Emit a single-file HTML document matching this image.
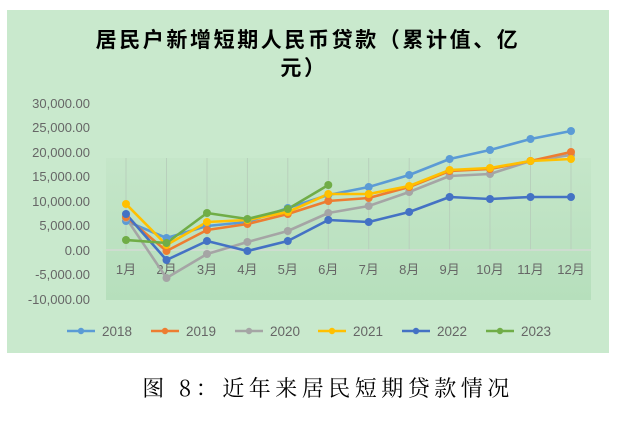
<!DOCTYPE html>
<html><head><meta charset="utf-8"><style>
html,body{margin:0;padding:0;background:#fff;width:620px;height:426px;overflow:hidden}
svg{display:block}
</style></head><body>
<svg width="620" height="426" viewBox="0 0 620 426" xmlns="http://www.w3.org/2000/svg">
<defs>
<linearGradient id="pg" x1="0" y1="0" x2="0" y2="1">
<stop offset="0" stop-color="#c5e6c9"/><stop offset="1" stop-color="#b6dfbc"/>
</linearGradient>
</defs>
<rect x="7" y="10" width="602" height="343" fill="#c9e9cd"/>
<rect x="106" y="158" width="485" height="142" fill="url(#pg)"/>
<text x="308" y="47" text-anchor="middle" font-family="'Noto Sans CJK SC',sans-serif" font-weight="bold" font-size="21" letter-spacing="2.6" fill="#000">居民户新增短期人民币贷款（累计值、亿</text>
<text x="304" y="75" text-anchor="middle" font-family="'Noto Sans CJK SC',sans-serif" font-weight="bold" font-size="21" letter-spacing="2.6" fill="#000">元）</text>
<g font-family="'Liberation Sans',sans-serif" font-size="13" fill="#666" text-anchor="end">
<text x="90" y="108">30,000.00</text>
<text x="90" y="132">25,000.00</text>
<text x="90" y="157">20,000.00</text>
<text x="90" y="181">15,000.00</text>
<text x="90" y="206">10,000.00</text>
<text x="90" y="230">5,000.00</text>
<text x="90" y="255">0.00</text>
<text x="90" y="279">-5,000.00</text>
<text x="90" y="304">-10,000.00</text>
</g>
<g stroke="#b8d0bc" stroke-width="1">
<line x1="126" y1="158" x2="126" y2="250"/><line x1="166.5" y1="158" x2="166.5" y2="250"/><line x1="207" y1="158" x2="207" y2="250"/><line x1="247.4" y1="158" x2="247.4" y2="250"/><line x1="287.8" y1="158" x2="287.8" y2="250"/><line x1="328.3" y1="158" x2="328.3" y2="250"/><line x1="368.7" y1="158" x2="368.7" y2="250"/><line x1="409.2" y1="158" x2="409.2" y2="250"/><line x1="449.6" y1="158" x2="449.6" y2="250"/><line x1="490" y1="158" x2="490" y2="250"/><line x1="530.5" y1="150" x2="530.5" y2="250"/><line x1="571" y1="131" x2="571" y2="250"/>
</g>
<line x1="106" y1="250" x2="591" y2="250" stroke="#d9d9d9" stroke-width="1.2"/>
<g font-family="'Liberation Sans','Noto Sans CJK SC',sans-serif" font-size="13" fill="#666" text-anchor="middle">
<text x="126" y="274">1月</text><text x="166.5" y="274">2月</text><text x="207" y="274">3月</text><text x="247.4" y="274">4月</text><text x="287.8" y="274">5月</text><text x="328.3" y="274">6月</text><text x="368.7" y="274">7月</text><text x="409.2" y="274">8月</text><text x="449.6" y="274">9月</text><text x="490" y="274">10月</text><text x="530.5" y="274">11月</text><text x="571" y="274">12月</text>
</g>
<g fill="none" stroke-width="2.6" stroke-linejoin="round">
<polyline stroke="#5B9BD5" points="126,221 166.5,238 207,226 247.4,222 287.8,208 328.3,195 368.7,187 409.2,175 449.6,159 490,150 530.5,139 571,131"/>
<polyline stroke="#A5A5A5" points="126,218 166.5,278 207,254 247.4,242 287.8,231 328.3,213 368.7,206 409.2,192 449.6,176 490,174 530.5,161 571,155"/>
<polyline stroke="#ED7D31" points="126,217 166.5,251 207,230 247.4,224 287.8,214 328.3,201 368.7,198 409.2,187 449.6,171 490,169 530.5,161 571,152"/>
<polyline stroke="#FFC000" points="126,204 166.5,245 207,222 247.4,220 287.8,212 328.3,194 368.7,194 409.2,186 449.6,170 490,168 530.5,161 571,159"/>
<polyline stroke="#4472C4" points="126,214 166.5,260 207,241 247.4,251 287.8,241 328.3,220 368.7,222 409.2,212 449.6,197 490,199 530.5,197 571,197"/>
<polyline stroke="#70AD47" points="126,240 166.5,243 207,213 247.4,219 287.8,209 328.3,185"/>
</g>
<g fill="#5B9BD5"><circle cx="126" cy="221" r="4"/><circle cx="166.5" cy="238" r="4"/><circle cx="207" cy="226" r="4"/><circle cx="247.4" cy="222" r="4"/><circle cx="287.8" cy="208" r="4"/><circle cx="328.3" cy="195" r="4"/><circle cx="368.7" cy="187" r="4"/><circle cx="409.2" cy="175" r="4"/><circle cx="449.6" cy="159" r="4"/><circle cx="490" cy="150" r="4"/><circle cx="530.5" cy="139" r="4"/><circle cx="571" cy="131" r="4"/></g>
<g fill="#A5A5A5"><circle cx="126" cy="218" r="4"/><circle cx="166.5" cy="278" r="4"/><circle cx="207" cy="254" r="4"/><circle cx="247.4" cy="242" r="4"/><circle cx="287.8" cy="231" r="4"/><circle cx="328.3" cy="213" r="4"/><circle cx="368.7" cy="206" r="4"/><circle cx="409.2" cy="192" r="4"/><circle cx="449.6" cy="176" r="4"/><circle cx="490" cy="174" r="4"/><circle cx="530.5" cy="161" r="4"/><circle cx="571" cy="155" r="4"/></g>
<g fill="#ED7D31"><circle cx="126" cy="217" r="4"/><circle cx="166.5" cy="251" r="4"/><circle cx="207" cy="230" r="4"/><circle cx="247.4" cy="224" r="4"/><circle cx="287.8" cy="214" r="4"/><circle cx="328.3" cy="201" r="4"/><circle cx="368.7" cy="198" r="4"/><circle cx="409.2" cy="187" r="4"/><circle cx="449.6" cy="171" r="4"/><circle cx="490" cy="169" r="4"/><circle cx="530.5" cy="161" r="4"/><circle cx="571" cy="152" r="4"/></g>
<g fill="#FFC000"><circle cx="126" cy="204" r="4"/><circle cx="166.5" cy="245" r="4"/><circle cx="207" cy="222" r="4"/><circle cx="247.4" cy="220" r="4"/><circle cx="287.8" cy="212" r="4"/><circle cx="328.3" cy="194" r="4"/><circle cx="368.7" cy="194" r="4"/><circle cx="409.2" cy="186" r="4"/><circle cx="449.6" cy="170" r="4"/><circle cx="490" cy="168" r="4"/><circle cx="530.5" cy="161" r="4"/><circle cx="571" cy="159" r="4"/></g>
<g fill="#4472C4"><circle cx="126" cy="214" r="4"/><circle cx="166.5" cy="260" r="4"/><circle cx="207" cy="241" r="4"/><circle cx="247.4" cy="251" r="4"/><circle cx="287.8" cy="241" r="4"/><circle cx="328.3" cy="220" r="4"/><circle cx="368.7" cy="222" r="4"/><circle cx="409.2" cy="212" r="4"/><circle cx="449.6" cy="197" r="4"/><circle cx="490" cy="199" r="4"/><circle cx="530.5" cy="197" r="4"/><circle cx="571" cy="197" r="4"/></g>
<g fill="#70AD47"><circle cx="126" cy="240" r="4"/><circle cx="166.5" cy="243" r="4"/><circle cx="207" cy="213" r="4"/><circle cx="247.4" cy="219" r="4"/><circle cx="287.8" cy="209" r="4"/><circle cx="328.3" cy="185" r="4"/></g>
<g font-family="'Liberation Sans',sans-serif" font-size="13.5" fill="#666" stroke-width="2.6">
<line x1="67" y1="331" x2="95" y2="331" stroke="#5B9BD5"/><circle cx="81" cy="331" r="3.2" fill="#5B9BD5"/><text x="102" y="336">2018</text>
<line x1="151" y1="331" x2="179" y2="331" stroke="#ED7D31"/><circle cx="165" cy="331" r="3.2" fill="#ED7D31"/><text x="186" y="336">2019</text>
<line x1="235" y1="331" x2="263" y2="331" stroke="#A5A5A5"/><circle cx="249" cy="331" r="3.2" fill="#A5A5A5"/><text x="270" y="336">2020</text>
<line x1="318" y1="331" x2="346" y2="331" stroke="#FFC000"/><circle cx="332" cy="331" r="3.2" fill="#FFC000"/><text x="353" y="336">2021</text>
<line x1="402" y1="331" x2="430" y2="331" stroke="#4472C4"/><circle cx="416" cy="331" r="3.2" fill="#4472C4"/><text x="437" y="336">2022</text>
<line x1="486" y1="331" x2="514" y2="331" stroke="#70AD47"/><circle cx="500" cy="331" r="3.2" fill="#70AD47"/><text x="521" y="336">2023</text>
</g>
<text x="328" y="396" text-anchor="middle" font-family="'Noto Serif CJK SC','Liberation Serif',serif" font-size="22" fill="#000" letter-spacing="4.5">图 8：近年来居民短期贷款情况</text>
</svg>
</body></html>
